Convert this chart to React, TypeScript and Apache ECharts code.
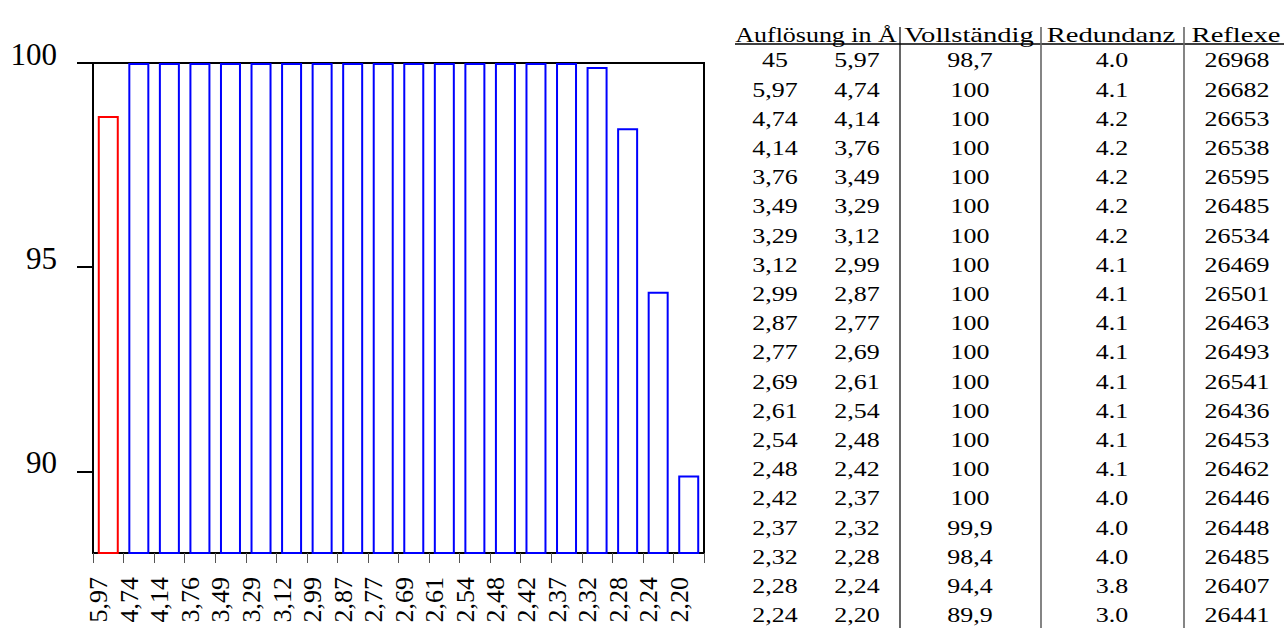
import { useEffect, useRef } from "react";
import * as echarts from "echarts";

// ---- data ----
const shellLow = ["45", "5,97", "4,74", "4,14", "3,76", "3,49", "3,29", "3,12", "2,99", "2,87", "2,77", "2,69", "2,61", "2,54", "2,48", "2,42", "2,37", "2,32", "2,28", "2,24"];
const shellHigh = ["5,97", "4,74", "4,14", "3,76", "3,49", "3,29", "3,12", "2,99", "2,87", "2,77", "2,69", "2,61", "2,54", "2,48", "2,42", "2,37", "2,32", "2,28", "2,24", "2,20"];
const completeness = [98.7, 100, 100, 100, 100, 100, 100, 100, 100, 100, 100, 100, 100, 100, 100, 100, 99.9, 98.4, 94.4, 89.9];
const redundancy = [4.0, 4.1, 4.2, 4.2, 4.2, 4.2, 4.2, 4.1, 4.1, 4.1, 4.1, 4.1, 4.1, 4.1, 4.1, 4.0, 4.0, 4.0, 3.8, 3.0];
const reflections = [26968, 26682, 26653, 26538, 26595, 26485, 26534, 26469, 26501, 26463, 26493, 26541, 26436, 26453, 26462, 26446, 26448, 26485, 26407, 26441];
const headers = ["Auflösung in Å", "Vollständig", "Redundanz", "Reflexe"];
const yTickValues = [90, 95, 100];

const SERIF = "Liberation Serif";

function fmtCompleteness(v: number): string {
  return Number.isInteger(v) ? String(v) : v.toFixed(1).replace(".", ",");
}

function buildTable(): any[] {
  const colCenters = [775, 857, 970, 1112, 1237];
  const headerCenters = [816, 969, 1111, 1236];
  const headerScale = [1.18, 1.3, 1.3, 1.3];
  const rowY0 = 60;
  const rowStep = 29.2;
  const fontSize = 22;
  const els: any[] = [];
  const txt = (s: string, x: number, y: number, sx: number) => ({
    type: "text",
    x,
    y,
    scaleX: sx,
    silent: true,
    style: {
      text: s,
      x: 0,
      y: 0,
      align: "center",
      verticalAlign: "middle",
      textAlign: "center",
      textVerticalAlign: "middle",
      fontSize,
      fontFamily: SERIF,
      fill: "#000",
    },
  });
  headers.forEach((h, i) => els.push(txt(h, headerCenters[i], 35, headerScale[i])));
  for (let i = 0; i < shellLow.length; i++) {
    const y = rowY0 + i * rowStep;
    els.push(txt(shellLow[i], colCenters[0], y, 1.18));
    els.push(txt(shellHigh[i], colCenters[1], y, 1.18));
    els.push(txt(fmtCompleteness(completeness[i]), colCenters[2], y, 1.18));
    els.push(txt(redundancy[i].toFixed(1), colCenters[3], y, 1.18));
    els.push(txt(String(reflections[i]), colCenters[4], y, 1.18));
  }
  // header underline
  els.push({
    type: "line",
    silent: true,
    shape: { x1: 735, y1: 44, x2: 1284, y2: 44 },
    style: { stroke: "#000", lineWidth: 1.5 },
  });
  // vertical rules
  els.push({
    type: "line",
    silent: true,
    shape: { x1: 900, y1: 27, x2: 900, y2: 628 },
    style: { stroke: "#000", lineWidth: 1.2 },
  });
  [1041, 1184].forEach((x) =>
    els.push({
      type: "line",
      silent: true,
      shape: { x1: x, y1: 27, x2: x, y2: 628 },
      style: { stroke: "#666", lineWidth: 1.6 },
    })
  );
  return els;
}

export default function App() {
  const ref = useRef<HTMLDivElement>(null);
  useEffect(() => {
    document.body.style.margin = "0";
    if (!ref.current) return;
    const chart = echarts.init(ref.current, undefined, { renderer: "svg" });
    chart.setOption({
      animation: false,
      backgroundColor: "#fff",
      grid: {
        left: 93,
        top: 63,
        width: 611,
        height: 490,
        show: true,
        borderColor: "#000",
        borderWidth: 2,
        backgroundColor: "transparent",
      },
      xAxis: {
        type: "category",
        data: shellHigh,
        boundaryGap: true,
        axisLine: { show: true, lineStyle: { color: "#000", width: 2 } },
        axisTick: { show: true, interval: 0, length: 10, lineStyle: { color: "#555", width: 1 } },
        axisLabel: {
          interval: 0,
          rotate: 90,
          margin: 24,
          fontSize: 26,
          fontFamily: SERIF,
          color: "#000",
          verticalAlign: "bottom",
          lineHeight: 19,
        },
        splitLine: { show: false },
      },
      yAxis: {
        type: "value",
        min: 88,
        max: 100,
        axisLine: { show: true, lineStyle: { color: "#000", width: 2 } },
        axisTick: {
          show: true,
          customValues: yTickValues,
          length: 16,
          lineStyle: { color: "#000", width: 2 },
        },
        axisLabel: {
          customValues: yTickValues,
          margin: 36,
          fontSize: 31,
          fontFamily: SERIF,
          color: "#000",
          verticalAlign: "bottom",
          lineHeight: 18,
        },
        splitLine: { show: false },
      },
      series: [
        {
          type: "bar",
          barWidth: 21,
          clip: true,
          data: completeness.map((v, i) => ({
            value: v,
            itemStyle: { borderColor: i === 0 ? "#ff0000" : "#0000ff" },
          })),
          itemStyle: { color: "rgba(255,255,255,0)", borderWidth: 2 },
          emphasis: { disabled: true },
        },
      ],
      graphic: buildTable(),
    });
    return () => chart.dispose();
  }, []);
  return <div ref={ref} style={{ width: 1284, height: 628 }} />;
}
